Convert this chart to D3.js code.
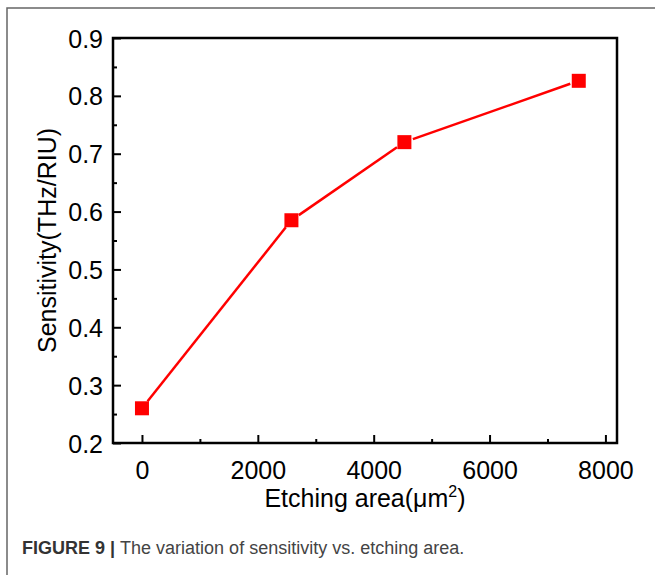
<!DOCTYPE html>
<html>
<head>
<meta charset="utf-8">
<script src="https://cdn.jsdelivr.net/npm/d3@7"></script>
<style>
  body { margin: 0; background: #fff; }
  svg { display: block; font-family: "Liberation Sans", Arial, sans-serif; }
</style>
</head>
<body>
<div id="chart"></div>
<script>
// data
var etchingArea = [0, 2580, 4530, 7540];
var sensitivity = [0.26, 0.585, 0.72, 0.826];
var xTicks = [0, 2000, 4000, 6000, 8000];
var xMinorTicks = [1000, 3000, 5000, 7000];
var yTicks = [0.2, 0.3, 0.4, 0.5, 0.6, 0.7, 0.8, 0.9];
var yMinorTicks = [0.25, 0.35, 0.45, 0.55, 0.65, 0.75, 0.85];

var points = etchingArea.map(function (d, i) { return { x: d, y: sensitivity[i] }; });

// plot box
var margin = { top: 38, right: 38, bottom: 132, left: 113 },
  width = 655 - margin.left - margin.right,
  height = 575 - margin.top - margin.bottom;

var svg = d3.select("#chart")
  .append("svg")
  .attr("width", 655)
  .attr("height", 575);

// outer figure frame (open to right / bottom like the page crop)
svg.append("path")
  .attr("d", "M7,575 L7,8 L655,8")
  .attr("fill", "none")
  .attr("stroke", "#666")
  .attr("stroke-width", 1.5);

var g = svg.append("g")
  .attr("transform", "translate(" + margin.left + "," + margin.top + ")");

var x = d3.scaleLinear()
  .domain([-500, 8200])
  .range([0, width]);

var y = d3.scaleLinear()
  .domain([0.2, 0.9])
  .range([height, 0]);

// minor ticks
g.append("g")
  .attr("class", "minor")
  .attr("transform", "translate(0," + height + ")")
  .call(d3.axisBottom(x).tickValues(xMinorTicks).tickSize(-4).tickFormat(""));
g.append("g")
  .attr("class", "minor")
  .call(d3.axisLeft(y).tickValues(yMinorTicks).tickSize(-4).tickFormat(""));

// major ticks + labels
var xAxis = g.append("g")
  .attr("transform", "translate(0," + height + ")")
  .call(d3.axisBottom(x).tickValues(xTicks).tickSize(-8).tickPadding(12).tickFormat(d3.format("d")));
var yAxis = g.append("g")
  .call(d3.axisLeft(y).tickValues(yTicks).tickSize(-8).tickPadding(10).tickFormat(d3.format(".1f")));

g.selectAll(".domain").remove();
g.selectAll(".tick line").attr("stroke", "#000").attr("stroke-width", 2);
xAxis.selectAll("text")
  .attr("font-size", 25)
  .attr("font-family", "Liberation Sans, Arial, sans-serif")
  .attr("fill", "#000")
  .attr("dy", "0.95em");
yAxis.selectAll("text")
  .attr("font-size", 25)
  .attr("font-family", "Liberation Sans, Arial, sans-serif")
  .attr("fill", "#000")
  .attr("x", -10)
  .attr("dy", "0.36em");

// frame
g.append("rect")
  .attr("width", width)
  .attr("height", height)
  .attr("fill", "none")
  .attr("stroke", "#000")
  .attr("stroke-width", 2.5);

// line segments with small gaps at the markers
var gap = 9;
var segs = [];
for (var i = 0; i < points.length - 1; i++) {
  var x1 = x(points[i].x), y1 = y(points[i].y),
    x2 = x(points[i + 1].x), y2 = y(points[i + 1].y);
  var len = Math.hypot(x2 - x1, y2 - y1);
  var ux = (x2 - x1) / len, uy = (y2 - y1) / len;
  segs.push([[x1 + ux * gap, y1 + uy * gap], [x2 - ux * gap, y2 - uy * gap]]);
}

g.selectAll(".seg")
  .data(segs)
  .enter().append("path")
  .attr("class", "seg")
  .attr("d", d3.line())
  .attr("fill", "none")
  .attr("stroke", "#ff0000")
  .attr("stroke-width", 2.5);

var ms = 14;
g.selectAll(".marker")
  .data(points)
  .enter().append("rect")
  .attr("class", "marker")
  .attr("x", function (d) { return x(d.x) - ms / 2; })
  .attr("y", function (d) { return y(d.y) - ms / 2; })
  .attr("width", ms)
  .attr("height", ms)
  .attr("fill", "#ff0000");

// axis titles
var xt = svg.append("text")
  .attr("x", margin.left + width / 2)
  .attr("y", 507)
  .attr("text-anchor", "middle")
  .attr("font-size", 25)
  .attr("fill", "#000");
xt.append("tspan").text("Etching area(\u03bcm");
xt.append("tspan").attr("font-size", 16).attr("dy", -10).text("2");
xt.append("tspan").attr("dy", 10).text(")");

svg.append("text")
  .attr("transform", "translate(56," + (margin.top + height / 2) + ") rotate(-90)")
  .attr("text-anchor", "middle")
  .attr("font-size", 25)
  .attr("fill", "#000")
  .text("Sensitivity(THz/RIU)");

// caption
var cap = svg.append("text")
  .attr("x", 22)
  .attr("y", 554)
  .attr("font-size", 18)
  .attr("fill", "#333");
cap.append("tspan").attr("font-weight", "bold").text("FIGURE 9 | ");
cap.append("tspan").attr("fill", "#444").text("The variation of sensitivity vs. etching area.");
</script>
</body>
</html>
